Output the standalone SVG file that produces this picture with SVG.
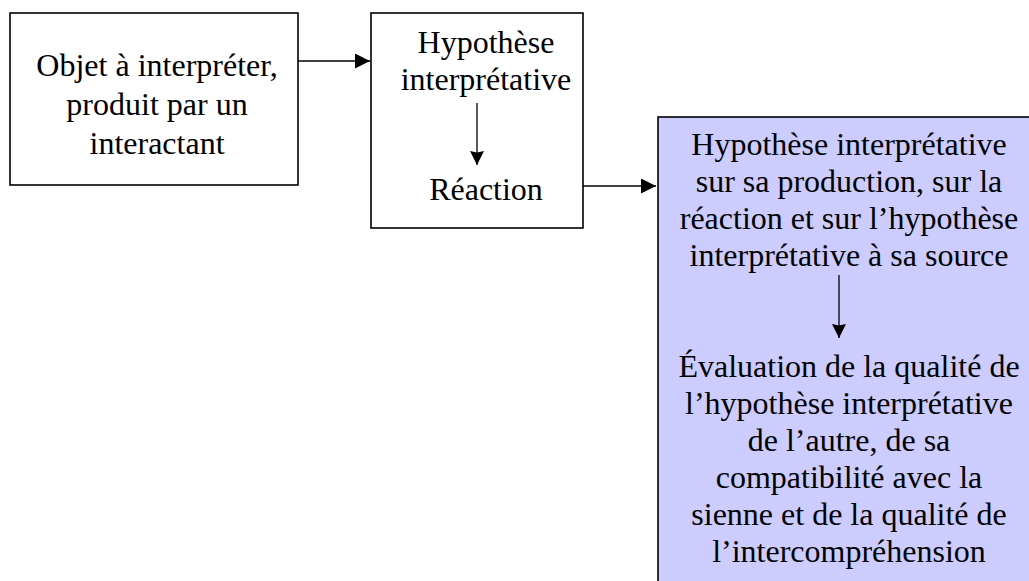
<svg xmlns="http://www.w3.org/2000/svg" width="1029" height="581" viewBox="0 0 1029 581">
  <style>
    .box { stroke: #000; stroke-width: 1.6; }
    .t { font-family: "Liberation Serif", "Times New Roman", serif; font-size: 32px; fill: #000; text-anchor: middle; }
    .c { stroke: #000; stroke-width: 1.3; fill: none; }
  </style>
  <defs>
    <marker id="ah" markerWidth="15" markerHeight="15" refX="15" refY="7.5" orient="auto" markerUnits="userSpaceOnUse">
      <path d="M0,0 L15,7.5 L0,15 Z" fill="#000"/>
    </marker>
    <marker id="ahv" markerWidth="14" markerHeight="20" refX="14" refY="10" orient="auto" markerUnits="userSpaceOnUse">
      <path d="M0,3 L14,10 L0,17 L1.5,10 Z" fill="#000"/>
    </marker>
  </defs>
  <rect width="1029" height="581" fill="#fff"/>
  <g id="node-objet">
    <rect class="box" x="10" y="13" width="288" height="172" fill="#fff"/>
    <text class="t" x="157" y="76">Objet à interpréter,</text>
    <text class="t" x="157" y="115">produit par un</text>
    <text class="t" x="157" y="154">interactant</text>
  </g>
  <g id="node-hypothese">
    <rect class="box" x="371" y="13" width="212" height="215" fill="#fff"/>
    <text class="t" x="486" y="53">Hypothèse</text>
    <text class="t" x="486" y="90">interprétative</text>
    <text class="t" x="486" y="200">Réaction</text>
  </g>
  <g id="node-evaluation">
    <rect class="box" x="658" y="117" width="380" height="480" fill="#ccccff"/>
    <text class="t" x="849" y="155">Hypothèse interprétative</text>
    <text class="t" x="849" y="192">sur sa production, sur la</text>
    <text class="t" x="849" y="229">réaction et sur l’hypothèse</text>
    <text class="t" x="849" y="266">interprétative à sa source</text>
    <text class="t" x="849" y="377">Évaluation de la qualité de</text>
    <text class="t" x="849" y="414">l’hypothèse interprétative</text>
    <text class="t" x="849" y="451">de l’autre, de sa</text>
    <text class="t" x="849" y="488">compatibilité avec la</text>
    <text class="t" x="849" y="525">sienne et de la qualité de</text>
    <text class="t" x="849" y="562">l’intercompréhension</text>
  </g>
  <g id="connectors">
    <line class="c" x1="298" y1="61" x2="370" y2="61" marker-end="url(#ah)"/>
    <line class="c" x1="583" y1="186" x2="656" y2="186" marker-end="url(#ah)"/>
    <line class="c" x1="477" y1="103" x2="477" y2="165" marker-end="url(#ahv)"/>
    <line class="c" x1="839" y1="275" x2="839" y2="338" marker-end="url(#ahv)"/>
  </g>
</svg>
